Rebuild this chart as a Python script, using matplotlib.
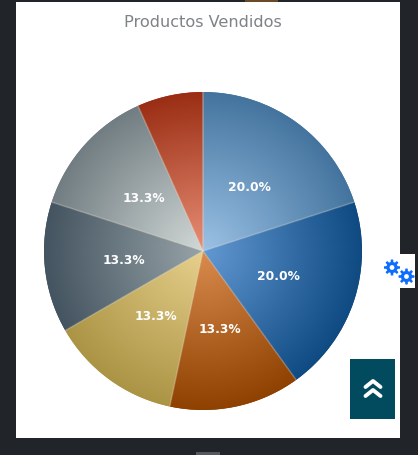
import numpy as np
import matplotlib
matplotlib.use("Agg")
import matplotlib.pyplot as plt
from matplotlib.colors import to_rgb
from matplotlib.patches import Circle, Rectangle

title = "Productos Vendidos"
values = [20.0, 20.0, 13.3, 13.3, 13.3, 13.3, 6.7]
inner_colors = ["#9cc2e6", "#6399d3", "#d98c4e", "#e6d08c", "#97a3a8", "#d2d9d7", "#e88f76"]
outer_colors = ["#44749e", "#0f4a82", "#8e4100", "#ab9444", "#445460", "#717d82", "#9a2e14"]

W, H = 418, 455
cx, cy, r = 203, 251, 159


def gear(axes, x, y, size, color="#0d6efd"):
    # eight toothed cog with a white hole
    t = np.linspace(0, 2 * np.pi, 193)
    rad = size * (0.85 + 0.15 * np.clip(3 * np.cos(8 * t), -1, 1))
    axes.fill(x + rad * np.cos(t), y + rad * np.sin(t), color=color, lw=0)
    axes.add_patch(Circle((x, y), size * 0.3, color="white", lw=0))


fig = plt.figure(figsize=(W / 100, H / 100), dpi=100, facecolor="#212529")

# page furniture, in pixel coordinates
page = fig.add_axes([0, 0, 1, 1])
page.set_xlim(0, W)
page.set_ylim(H, 0)
page.axis("off")
page.add_patch(Rectangle((16, 2), 384, 436, color="white", lw=0))
page.add_patch(Rectangle((245, 0), 33, 2, color="#6b4a2a", lw=0))
page.add_patch(Rectangle((196, 452), 24, 3, color="#55585c", lw=0))
page.add_patch(Rectangle((400, 254), 15, 34, color="white", lw=0))
page.add_patch(Rectangle((350, 359), 45, 60, color="#024b5f", lw=0))
page.text(203, 22.5, title, ha="center", va="center", fontsize=11.6, color="#7e8387")
gear(page, 392, 267.5, 8)
gear(page, 406.5, 276.5, 8)
for y in (381, 390):
    page.plot([365.5, 373, 380.5], [y + 6, y, y + 6], color="white", lw=2.8, solid_capstyle="round")

# pie axes spans exactly the circle
ax = fig.add_axes([(cx - r) / W, 1 - (cy + r) / H, 2 * r / W, 2 * r / H])
wedges, texts, pcts = ax.pie(
    values,
    colors=outer_colors,
    startangle=90,
    counterclock=False,
    radius=1,
    autopct=lambda p: f"{p:.1f}%" if p > 10 else "",
    pctdistance=0.5,
    wedgeprops={"linewidth": 0, "zorder": 1},
    textprops={"color": "white", "fontsize": 8.8, "fontweight": "bold", "zorder": 5},
)
ax.set_xlim(-1, 1)
ax.set_ylim(-1, 1)

# radial gradient per slice, all in one image so no seams show
xx, yy = np.meshgrid(np.linspace(-1, 1, 800), np.linspace(-1, 1, 800))
dist = np.clip(np.hypot(xx, yy), 0, 1)[..., None]
theta = np.degrees(np.arctan2(yy, xx)) % 360
rgb = np.ones(xx.shape + (3,))
for wedge, c0, c1 in zip(wedges, inner_colors, outer_colors):
    mask = (theta - wedge.theta1) % 360 < (wedge.theta2 - wedge.theta1)
    shade = np.array(to_rgb(c0)) * (1 - dist) + np.array(to_rgb(c1)) * dist
    rgb[mask] = shade[mask]

# faint light separators between the slices
for wedge in wedges:
    a = np.radians(wedge.theta1)
    along = xx * np.cos(a) + yy * np.sin(a)
    across = np.abs(yy * np.cos(a) - xx * np.sin(a))
    seam = (along > 0) & (across < 0.004)
    rgb[seam] = rgb[seam] * 0.65 + np.array(to_rgb("#f3e8d6")) * 0.35

im = ax.imshow(rgb, extent=(-1, 1, -1, 1), origin="lower", zorder=2, aspect="auto")
im.set_clip_path(Circle((0, 0), 1, transform=ax.transData))

for t in pcts:
    t.set_y(t.get_position()[1] - 0.006)

fig.savefig("out.png", dpi=100, facecolor=fig.get_facecolor())
